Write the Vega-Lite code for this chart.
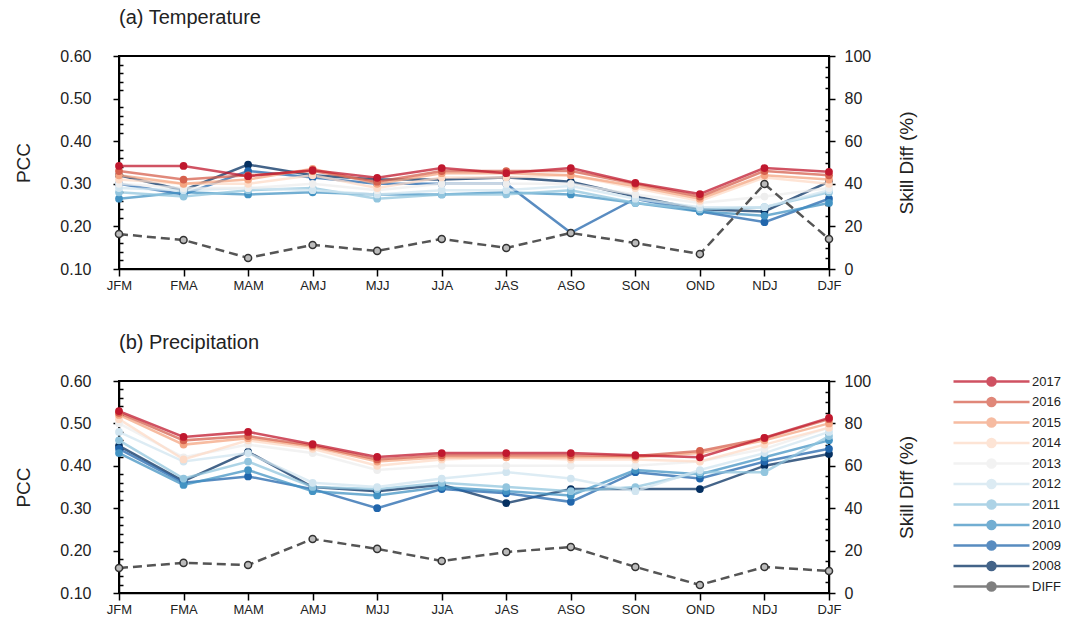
{
  "$schema": "https://vega.github.io/schema/vega-lite/v6.json",
  "background": "white",
  "padding": {"left": 13, "top": 7, "right": 0, "bottom": 0},
  "spacing": 39,
  "config": {
    "font": "Liberation Sans",
    "view": {"stroke": "black", "strokeWidth": 2},
    "axis": {"domainColor": "black", "domainWidth": 1.5, "tickColor": "black", "tickWidth": 1.5, "labelColor": "#222", "titleColor": "#222", "labelFontSize": 16, "titleFontSize": 19, "titleFontWeight": "normal", "grid": false},
    "axisX": {"labelFontSize": 13, "tickSize": 7, "labelPadding": 3, "labelAngle": 0, "title": null},
    "title": {"fontSize": 20, "fontWeight": "normal", "color": "#222", "anchor": "start", "frame": "group", "offset": 20, "dx": 0}
  },
  "resolve": {"scale": {"color": "shared"}, "legend": {"color": "independent"}},
  "datasets": {
    "temp": [
      {"season":"JFM","year":"2008","pcc":0.320},{"season":"FMA","year":"2008","pcc":0.285},{"season":"MAM","year":"2008","pcc":0.345},{"season":"AMJ","year":"2008","pcc":0.320},{"season":"MJJ","year":"2008","pcc":0.310},{"season":"JJA","year":"2008","pcc":0.310},{"season":"JAS","year":"2008","pcc":0.315},{"season":"ASO","year":"2008","pcc":0.305},{"season":"SON","year":"2008","pcc":0.270},{"season":"OND","year":"2008","pcc":0.240},{"season":"NDJ","year":"2008","pcc":0.235},{"season":"DJF","year":"2008","pcc":0.305},
      {"season":"JFM","year":"2009","pcc":0.300},{"season":"FMA","year":"2009","pcc":0.275},{"season":"MAM","year":"2009","pcc":0.330},{"season":"AMJ","year":"2009","pcc":0.315},{"season":"MJJ","year":"2009","pcc":0.300},{"season":"JJA","year":"2009","pcc":0.300},{"season":"JAS","year":"2009","pcc":0.300},{"season":"ASO","year":"2009","pcc":0.185},{"season":"SON","year":"2009","pcc":0.265},{"season":"OND","year":"2009","pcc":0.235},{"season":"NDJ","year":"2009","pcc":0.210},{"season":"DJF","year":"2009","pcc":0.265},
      {"season":"JFM","year":"2010","pcc":0.265},{"season":"FMA","year":"2010","pcc":0.280},{"season":"MAM","year":"2010","pcc":0.275},{"season":"AMJ","year":"2010","pcc":0.280},{"season":"MJJ","year":"2010","pcc":0.275},{"season":"JJA","year":"2010","pcc":0.275},{"season":"JAS","year":"2010","pcc":0.280},{"season":"ASO","year":"2010","pcc":0.275},{"season":"SON","year":"2010","pcc":0.255},{"season":"OND","year":"2010","pcc":0.235},{"season":"NDJ","year":"2010","pcc":0.225},{"season":"DJF","year":"2010","pcc":0.255},
      {"season":"JFM","year":"2011","pcc":0.280},{"season":"FMA","year":"2011","pcc":0.270},{"season":"MAM","year":"2011","pcc":0.285},{"season":"AMJ","year":"2011","pcc":0.290},{"season":"MJJ","year":"2011","pcc":0.265},{"season":"JJA","year":"2011","pcc":0.275},{"season":"JAS","year":"2011","pcc":0.275},{"season":"ASO","year":"2011","pcc":0.285},{"season":"SON","year":"2011","pcc":0.255},{"season":"OND","year":"2011","pcc":0.240},{"season":"NDJ","year":"2011","pcc":0.245},{"season":"DJF","year":"2011","pcc":0.280},
      {"season":"JFM","year":"2012","pcc":0.290},{"season":"FMA","year":"2012","pcc":0.285},{"season":"MAM","year":"2012","pcc":0.290},{"season":"AMJ","year":"2012","pcc":0.285},{"season":"MJJ","year":"2012","pcc":0.275},{"season":"JJA","year":"2012","pcc":0.285},{"season":"JAS","year":"2012","pcc":0.285},{"season":"ASO","year":"2012","pcc":0.295},{"season":"SON","year":"2012","pcc":0.265},{"season":"OND","year":"2012","pcc":0.245},{"season":"NDJ","year":"2012","pcc":0.245},{"season":"DJF","year":"2012","pcc":0.285},
      {"season":"JFM","year":"2013","pcc":0.300},{"season":"FMA","year":"2013","pcc":0.290},{"season":"MAM","year":"2013","pcc":0.290},{"season":"AMJ","year":"2013","pcc":0.300},{"season":"MJJ","year":"2013","pcc":0.285},{"season":"JJA","year":"2013","pcc":0.300},{"season":"JAS","year":"2013","pcc":0.300},{"season":"ASO","year":"2013","pcc":0.300},{"season":"SON","year":"2013","pcc":0.275},{"season":"OND","year":"2013","pcc":0.255},{"season":"NDJ","year":"2013","pcc":0.270},{"season":"DJF","year":"2013","pcc":0.290},
      {"season":"JFM","year":"2014","pcc":0.310},{"season":"FMA","year":"2014","pcc":0.300},{"season":"MAM","year":"2014","pcc":0.300},{"season":"AMJ","year":"2014","pcc":0.320},{"season":"MJJ","year":"2014","pcc":0.290},{"season":"JJA","year":"2014","pcc":0.315},{"season":"JAS","year":"2014","pcc":0.315},{"season":"ASO","year":"2014","pcc":0.320},{"season":"SON","year":"2014","pcc":0.290},{"season":"OND","year":"2014","pcc":0.260},{"season":"NDJ","year":"2014","pcc":0.315},{"season":"DJF","year":"2014","pcc":0.300},
      {"season":"JFM","year":"2015","pcc":0.320},{"season":"FMA","year":"2015","pcc":0.300},{"season":"MAM","year":"2015","pcc":0.310},{"season":"AMJ","year":"2015","pcc":0.335},{"season":"MJJ","year":"2015","pcc":0.300},{"season":"JJA","year":"2015","pcc":0.325},{"season":"JAS","year":"2015","pcc":0.325},{"season":"ASO","year":"2015","pcc":0.320},{"season":"SON","year":"2015","pcc":0.295},{"season":"OND","year":"2015","pcc":0.265},{"season":"NDJ","year":"2015","pcc":0.320},{"season":"DJF","year":"2015","pcc":0.310},
      {"season":"JFM","year":"2016","pcc":0.330},{"season":"FMA","year":"2016","pcc":0.310},{"season":"MAM","year":"2016","pcc":0.320},{"season":"AMJ","year":"2016","pcc":0.330},{"season":"MJJ","year":"2016","pcc":0.305},{"season":"JJA","year":"2016","pcc":0.330},{"season":"JAS","year":"2016","pcc":0.330},{"season":"ASO","year":"2016","pcc":0.330},{"season":"SON","year":"2016","pcc":0.300},{"season":"OND","year":"2016","pcc":0.270},{"season":"NDJ","year":"2016","pcc":0.330},{"season":"DJF","year":"2016","pcc":0.320},
      {"season":"JFM","year":"2017","pcc":0.342},{"season":"FMA","year":"2017","pcc":0.342},{"season":"MAM","year":"2017","pcc":0.318},{"season":"AMJ","year":"2017","pcc":0.332},{"season":"MJJ","year":"2017","pcc":0.314},{"season":"JJA","year":"2017","pcc":0.337},{"season":"JAS","year":"2017","pcc":0.325},{"season":"ASO","year":"2017","pcc":0.337},{"season":"SON","year":"2017","pcc":0.302},{"season":"OND","year":"2017","pcc":0.276},{"season":"NDJ","year":"2017","pcc":0.337},{"season":"DJF","year":"2017","pcc":0.328}
    ],
    "tempDiff": [
      {"season":"JFM","diff":16.4},{"season":"FMA","diff":13.6},{"season":"MAM","diff":5.2},{"season":"AMJ","diff":11.3},{"season":"MJJ","diff":8.5},{"season":"JJA","diff":14.1},{"season":"JAS","diff":9.9},{"season":"ASO","diff":16.9},{"season":"SON","diff":12.2},{"season":"OND","diff":7.0},{"season":"NDJ","diff":39.9},{"season":"DJF","diff":14.1}
    ],
    "prec": [
      {"season":"JFM","year":"2008","pcc":0.447},{"season":"FMA","year":"2008","pcc":0.364},{"season":"MAM","year":"2008","pcc":0.433},{"season":"AMJ","year":"2008","pcc":0.350},{"season":"MJJ","year":"2008","pcc":0.340},{"season":"JJA","year":"2008","pcc":0.355},{"season":"JAS","year":"2008","pcc":0.312},{"season":"ASO","year":"2008","pcc":0.345},{"season":"SON","year":"2008","pcc":0.345},{"season":"OND","year":"2008","pcc":0.345},{"season":"NDJ","year":"2008","pcc":0.400},{"season":"DJF","year":"2008","pcc":0.428},
      {"season":"JFM","year":"2009","pcc":0.440},{"season":"FMA","year":"2009","pcc":0.360},{"season":"MAM","year":"2009","pcc":0.375},{"season":"AMJ","year":"2009","pcc":0.345},{"season":"MJJ","year":"2009","pcc":0.300},{"season":"JJA","year":"2009","pcc":0.345},{"season":"JAS","year":"2009","pcc":0.335},{"season":"ASO","year":"2009","pcc":0.315},{"season":"SON","year":"2009","pcc":0.385},{"season":"OND","year":"2009","pcc":0.370},{"season":"NDJ","year":"2009","pcc":0.410},{"season":"DJF","year":"2009","pcc":0.440},
      {"season":"JFM","year":"2010","pcc":0.430},{"season":"FMA","year":"2010","pcc":0.355},{"season":"MAM","year":"2010","pcc":0.390},{"season":"AMJ","year":"2010","pcc":0.340},{"season":"MJJ","year":"2010","pcc":0.330},{"season":"JJA","year":"2010","pcc":0.350},{"season":"JAS","year":"2010","pcc":0.340},{"season":"ASO","year":"2010","pcc":0.330},{"season":"SON","year":"2010","pcc":0.390},{"season":"OND","year":"2010","pcc":0.380},{"season":"NDJ","year":"2010","pcc":0.420},{"season":"DJF","year":"2010","pcc":0.460},
      {"season":"JFM","year":"2011","pcc":0.460},{"season":"FMA","year":"2011","pcc":0.370},{"season":"MAM","year":"2011","pcc":0.410},{"season":"AMJ","year":"2011","pcc":0.350},{"season":"MJJ","year":"2011","pcc":0.345},{"season":"JJA","year":"2011","pcc":0.360},{"season":"JAS","year":"2011","pcc":0.350},{"season":"ASO","year":"2011","pcc":0.340},{"season":"SON","year":"2011","pcc":0.350},{"season":"OND","year":"2011","pcc":0.385},{"season":"NDJ","year":"2011","pcc":0.385},{"season":"DJF","year":"2011","pcc":0.470},
      {"season":"JFM","year":"2012","pcc":0.480},{"season":"FMA","year":"2012","pcc":0.410},{"season":"MAM","year":"2012","pcc":0.430},{"season":"AMJ","year":"2012","pcc":0.360},{"season":"MJJ","year":"2012","pcc":0.350},{"season":"JJA","year":"2012","pcc":0.370},{"season":"JAS","year":"2012","pcc":0.385},{"season":"ASO","year":"2012","pcc":0.370},{"season":"SON","year":"2012","pcc":0.340},{"season":"OND","year":"2012","pcc":0.390},{"season":"NDJ","year":"2012","pcc":0.430},{"season":"DJF","year":"2012","pcc":0.480},
      {"season":"JFM","year":"2013","pcc":0.500},{"season":"FMA","year":"2013","pcc":0.420},{"season":"MAM","year":"2013","pcc":0.450},{"season":"AMJ","year":"2013","pcc":0.430},{"season":"MJJ","year":"2013","pcc":0.390},{"season":"JJA","year":"2013","pcc":0.400},{"season":"JAS","year":"2013","pcc":0.400},{"season":"ASO","year":"2013","pcc":0.400},{"season":"SON","year":"2013","pcc":0.400},{"season":"OND","year":"2013","pcc":0.410},{"season":"NDJ","year":"2013","pcc":0.440},{"season":"DJF","year":"2013","pcc":0.490},
      {"season":"JFM","year":"2014","pcc":0.510},{"season":"FMA","year":"2014","pcc":0.415},{"season":"MAM","year":"2014","pcc":0.460},{"season":"AMJ","year":"2014","pcc":0.440},{"season":"MJJ","year":"2014","pcc":0.400},{"season":"JJA","year":"2014","pcc":0.415},{"season":"JAS","year":"2014","pcc":0.420},{"season":"ASO","year":"2014","pcc":0.415},{"season":"SON","year":"2014","pcc":0.415},{"season":"OND","year":"2014","pcc":0.410},{"season":"NDJ","year":"2014","pcc":0.450},{"season":"DJF","year":"2014","pcc":0.490},
      {"season":"JFM","year":"2015","pcc":0.520},{"season":"FMA","year":"2015","pcc":0.450},{"season":"MAM","year":"2015","pcc":0.465},{"season":"AMJ","year":"2015","pcc":0.445},{"season":"MJJ","year":"2015","pcc":0.410},{"season":"JJA","year":"2015","pcc":0.420},{"season":"JAS","year":"2015","pcc":0.420},{"season":"ASO","year":"2015","pcc":0.420},{"season":"SON","year":"2015","pcc":0.420},{"season":"OND","year":"2015","pcc":0.430},{"season":"NDJ","year":"2015","pcc":0.460},{"season":"DJF","year":"2015","pcc":0.500},
      {"season":"JFM","year":"2016","pcc":0.525},{"season":"FMA","year":"2016","pcc":0.460},{"season":"MAM","year":"2016","pcc":0.470},{"season":"AMJ","year":"2016","pcc":0.448},{"season":"MJJ","year":"2016","pcc":0.415},{"season":"JJA","year":"2016","pcc":0.425},{"season":"JAS","year":"2016","pcc":0.425},{"season":"ASO","year":"2016","pcc":0.425},{"season":"SON","year":"2016","pcc":0.423},{"season":"OND","year":"2016","pcc":0.435},{"season":"NDJ","year":"2016","pcc":0.465},{"season":"DJF","year":"2016","pcc":0.510},
      {"season":"JFM","year":"2017","pcc":0.529},{"season":"FMA","year":"2017","pcc":0.468},{"season":"MAM","year":"2017","pcc":0.480},{"season":"AMJ","year":"2017","pcc":0.451},{"season":"MJJ","year":"2017","pcc":0.421},{"season":"JJA","year":"2017","pcc":0.430},{"season":"JAS","year":"2017","pcc":0.430},{"season":"ASO","year":"2017","pcc":0.430},{"season":"SON","year":"2017","pcc":0.425},{"season":"OND","year":"2017","pcc":0.420},{"season":"NDJ","year":"2017","pcc":0.466},{"season":"DJF","year":"2017","pcc":0.513}
    ],
    "precDiff": [
      {"season":"JFM","diff":11.8},{"season":"FMA","diff":14.2},{"season":"MAM","diff":13.2},{"season":"AMJ","diff":25.5},{"season":"MJJ","diff":20.8},{"season":"JJA","diff":15.1},{"season":"JAS","diff":19.3},{"season":"ASO","diff":21.7},{"season":"SON","diff":12.3},{"season":"OND","diff":3.8},{"season":"NDJ","diff":12.3},{"season":"DJF","diff":10.4}
    ]
  },
  "vconcat": [
    {
      "title": {"text": "(a) Temperature"},
      "width": 710,
      "height": 213,
      "resolve": {"scale": {"y": "independent"}},
      "layer": [
        {
          "data": {"name": "temp"},
          "mark": {"type": "line", "strokeWidth": 2.5, "opacity": 0.75, "point": {"filled": true, "size": 60, "opacity": 1}},
          "encoding": {
            "x": {"field": "season", "type": "ordinal", "sort": ["JFM","FMA","MAM","AMJ","MJJ","JJA","JAS","ASO","SON","OND","NDJ","DJF"], "scale": {"type": "point", "padding": 0}},
            "y": {"field": "pcc", "type": "quantitative", "scale": {"domain": [0.1, 0.6], "nice": false, "zero": false},
              "axis": {"orient": "left", "title": "PCC", "values": [0.1,0.12,0.14,0.16,0.18,0.2,0.22,0.24,0.26,0.28,0.3,0.32,0.34,0.36,0.38,0.4,0.42,0.44,0.46,0.48,0.5,0.52,0.54,0.56,0.58,0.6], "format": ".2f",
                "labelExpr": "abs(datum.value*10-round(datum.value*10))<0.001 ? datum.label : ''",
                "tickSize": {"condition": {"test": "abs(datum.value*10-round(datum.value*10))<0.001", "value": 6}, "value": -4},
                "labelPadding": 22, "titlePadding": 26}},
            "color": {"field": "year", "type": "nominal", "legend": null,
              "scale": {"domain": ["2017","2016","2015","2014","2013","2012","2011","2010","2009","2008","DIFF"], "range": ["#c0182e","#d6604d","#f4a582","#fddbc7","#eeeeee","#d1e5f0","#92c5de","#4393c3","#2166ac","#053061","#555555"]}}
          }
        },
        {
          "data": {"name": "tempDiff"},
          "encoding": {
            "x": {"field": "season", "type": "ordinal", "sort": ["JFM","FMA","MAM","AMJ","MJJ","JJA","JAS","ASO","SON","OND","NDJ","DJF"], "scale": {"type": "point", "padding": 0}},
            "y": {"field": "diff", "type": "quantitative", "scale": {"domain": [0, 100], "nice": false},
              "axis": {"orient": "right", "title": "Skill Diff (%)", "titleAngle": 270, "values": [0,5,10,15,20,25,30,35,40,45,50,55,60,65,70,75,80,85,90,95,100],
                "labelExpr": "datum.value % 20 == 0 ? datum.label : ''",
                "tickSize": {"condition": {"test": "datum.value % 20 == 0", "value": 6}, "value": -4},
                "labelPadding": 9, "titlePadding": 46}}
          },
          "layer": [
            {"mark": {"type": "line", "strokeWidth": 2.5, "strokeDash": [9, 5]}, "encoding": {"color": {"datum": "DIFF", "type": "nominal", "legend": null}}},
            {"mark": {"type": "point", "shape": "circle", "size": 50, "filled": true, "fill": "#bbbbbb", "stroke": "#333333", "strokeWidth": 1.5, "opacity": 1}}
          ]
        }
      ]
    },
    {
      "title": {"text": "(b) Precipitation"},
      "width": 710,
      "height": 212,
      "resolve": {"scale": {"y": "independent"}},
      "layer": [
        {
          "data": {"name": "prec"},
          "mark": {"type": "line", "strokeWidth": 2.5, "opacity": 0.75, "point": {"filled": true, "size": 60, "opacity": 1}},
          "encoding": {
            "x": {"field": "season", "type": "ordinal", "sort": ["JFM","FMA","MAM","AMJ","MJJ","JJA","JAS","ASO","SON","OND","NDJ","DJF"], "scale": {"type": "point", "padding": 0}},
            "y": {"field": "pcc", "type": "quantitative", "scale": {"domain": [0.1, 0.6], "nice": false, "zero": false},
              "axis": {"orient": "left", "title": "PCC", "values": [0.1,0.12,0.14,0.16,0.18,0.2,0.22,0.24,0.26,0.28,0.3,0.32,0.34,0.36,0.38,0.4,0.42,0.44,0.46,0.48,0.5,0.52,0.54,0.56,0.58,0.6], "format": ".2f",
                "labelExpr": "abs(datum.value*10-round(datum.value*10))<0.001 ? datum.label : ''",
                "tickSize": {"condition": {"test": "abs(datum.value*10-round(datum.value*10))<0.001", "value": 6}, "value": -4},
                "labelPadding": 22, "titlePadding": 26}},
            "color": {"field": "year", "type": "nominal",
              "legend": {"title": null, "orient": "none", "legendX": 866, "legendY": -6, "padding": 0,
                "symbolType": "M-7.6,0L7.6,0M0.8,0A0.8,0.8,0,1,1,-0.8,0A0.8,0.8,0,1,1,0.8,0Z",
                "symbolSize": 100, "symbolStrokeWidth": 2.5, "labelFontSize": 13, "labelColor": "#222", "labelOffset": 34, "rowPadding": 1.5,
                "encode": {"symbols": {
                  "fill": {"condition": {"test": "datum.value === 'DIFF'", "value": "#d0d0d0"}, "value": {"expr": "scale('color', datum.value)"}},
                  "strokeDash": {"condition": {"test": "datum.value === 'DIFF'", "value": [9, 5]}, "value": [1, 0]},
                  "strokeOpacity": {"value": 0.75},
                  "fillOpacity": {"value": 1}}}},
              "scale": {"domain": ["2017","2016","2015","2014","2013","2012","2011","2010","2009","2008","DIFF"], "range": ["#c0182e","#d6604d","#f4a582","#fddbc7","#eeeeee","#d1e5f0","#92c5de","#4393c3","#2166ac","#053061","#555555"]}}
          }
        },
        {
          "data": {"name": "precDiff"},
          "encoding": {
            "x": {"field": "season", "type": "ordinal", "sort": ["JFM","FMA","MAM","AMJ","MJJ","JJA","JAS","ASO","SON","OND","NDJ","DJF"], "scale": {"type": "point", "padding": 0}},
            "y": {"field": "diff", "type": "quantitative", "scale": {"domain": [0, 100], "nice": false},
              "axis": {"orient": "right", "title": "Skill Diff (%)", "titleAngle": 270, "values": [0,5,10,15,20,25,30,35,40,45,50,55,60,65,70,75,80,85,90,95,100],
                "labelExpr": "datum.value % 20 == 0 ? datum.label : ''",
                "tickSize": {"condition": {"test": "datum.value % 20 == 0", "value": 6}, "value": -4},
                "labelPadding": 9, "titlePadding": 46}}
          },
          "layer": [
            {"mark": {"type": "line", "strokeWidth": 2.5, "strokeDash": [9, 5]}, "encoding": {"color": {"datum": "DIFF", "type": "nominal"}}},
            {"mark": {"type": "point", "shape": "circle", "size": 50, "filled": true, "fill": "#bbbbbb", "stroke": "#333333", "strokeWidth": 1.5, "opacity": 1}}
          ]
        }
      ]
    }
  ]
}
